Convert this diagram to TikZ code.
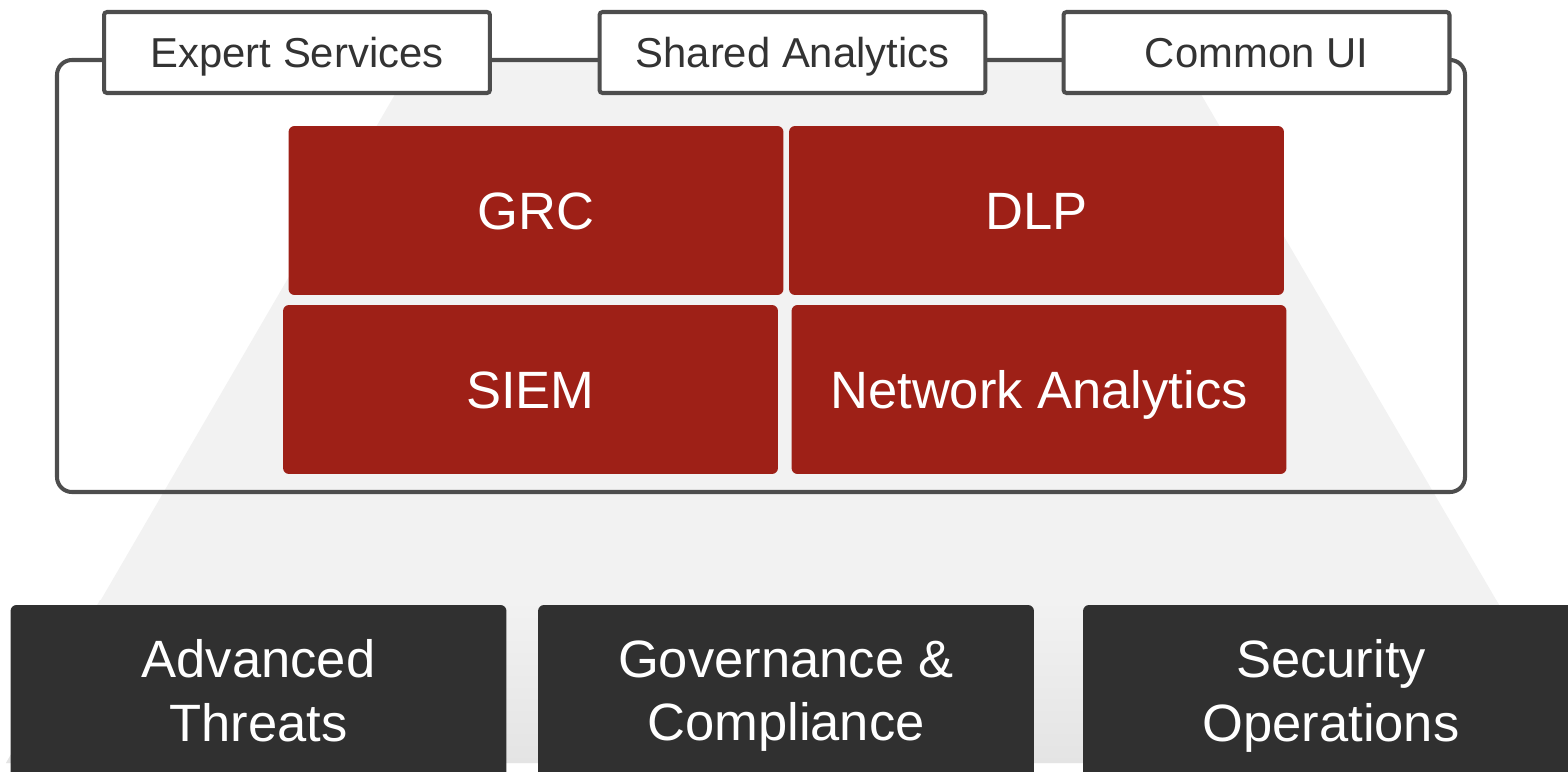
\documentclass[tikz,border=0pt]{standalone}
\usepackage{fontspec}
\setmainfont{Liberation Sans}
\usepackage{xcolor}

\definecolor{frameGray}{HTML}{4D4D4D}
\definecolor{labelText}{HTML}{333333}
\definecolor{boxRed}{HTML}{9E2017}
\definecolor{boxDark}{HTML}{303030}
\definecolor{bgTop}{HTML}{F2F2F2}
\definecolor{bgBottom}{HTML}{E4E4E4}

\tikzset{
  tabbox/.style={draw=frameGray, line width=2.3pt, fill=white, rounded corners=0.06cm,
    minimum width=7.72cm, minimum height=1.62cm, inner sep=0pt, text=labelText,
    font=\fontsize{23.8}{28}\selectfont, text height=0.6cm, text depth=0pt},
  redbox/.style={fill=boxRed, rounded corners=0.12cm, minimum width=9.9cm,
    minimum height=3.38cm, inner sep=0pt, text=white,
    font=\fontsize{29.9}{36}\selectfont, text height=0.76cm, text depth=0pt},
  darkbox/.style={fill=boxDark, rounded corners=0.12cm, minimum width=9.92cm,
    minimum height=3.44cm, inner sep=0pt, text=white, align=center,
    font=\fontsize{29.9}{36.3}\selectfont}
}

\begin{document}
\begin{tikzpicture}[x=0.02cm, y=-0.02cm]
  \useasboundingbox (0,0) rectangle (1568,771);

  % Draw the background pyramid
  \fill[bgTop] (415,60) -- (1181,60) -- (1568,723) -- (1568,763) -- (6,763) -- cycle;
  \shade[top color=bgTop, bottom color=bgBottom]
    (100,600) -- (1496,600) -- (1568,723) -- (1568,763) -- (6,763) -- cycle;

  % Draw the outer frame
  \draw[frameGray, line width=2.3pt, rounded corners=0.3cm] (57,60) rectangle (1465,492);

  % Draw the tabs on the frame
  \node[tabbox] (expert) at (297,52.5) {Expert Services};
  \node[tabbox] (shared) at (792.5,52.5) {Shared Analytics};
  \node[tabbox] (commonui) at (1256.5,52.5) {Common UI};

  % Draw the product boxes
  \node[redbox] (grc) at (536,210.5) {GRC};
  \node[redbox] (dlp) at (1036.5,210.5) {DLP};
  \node[redbox] (siem) at (530.5,389.5) {SIEM};
  \node[redbox] (netanalytics) at (1039,389.5) {Network Analytics};

  % Draw the solution boxes
  \node[darkbox] (threats) at (258.5,691) {Advanced\\Threats};
  \node[darkbox] (governance) at (786,691) {Governance \&\\Com\smash{p}liance};
  \node[darkbox] (secops) at (1331,691) {Security\\O\smash{p}erations};
\end{tikzpicture}
\end{document}
